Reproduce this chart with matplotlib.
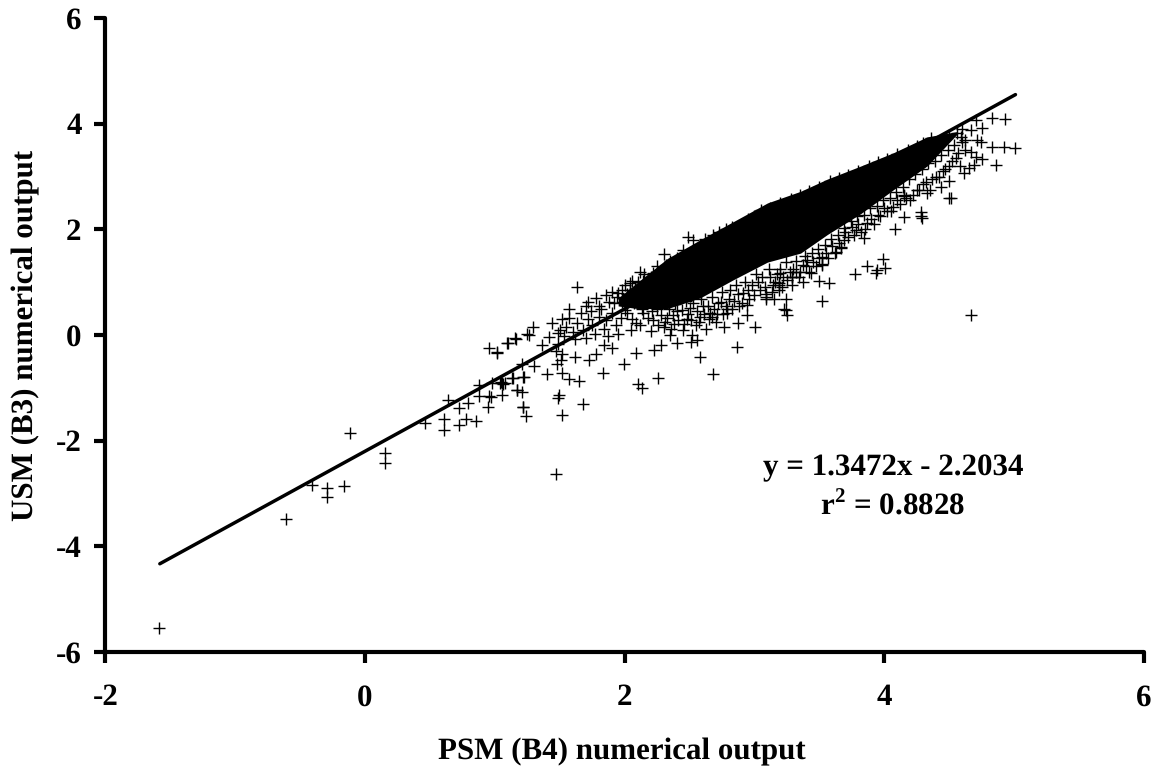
import matplotlib
matplotlib.use("Agg")
import matplotlib.pyplot as plt

plt.rcParams['font.family'] = ['Liberation Serif', 'DejaVu Serif']
plt.rcParams['font.weight'] = 'bold'
plt.rcParams['mathtext.fontset'] = 'custom'
plt.rcParams['mathtext.bf'] = 'Liberation Serif:bold'
plt.rcParams['mathtext.rm'] = 'Liberation Serif:bold'
plt.rcParams['axes.unicode_minus'] = False
plt.rcParams['text.hinting'] = 'no_hinting'
plt.rcParams['text.hinting_factor'] = 1

x_ticks = [-2, 0, 2, 4, 6]
y_ticks = [-6, -4, -2, 0, 2, 4, 6]
x_label = "PSM (B4) numerical output"
y_label = "USM (B3) numerical output"
equation = "y = 1.3472x - 2.2034"
r_squared = r"r$^{\mathbf{2}}$ = 0.8828"

# Regression line end points
fit_x = [-1.58, 5.01]
fit_y = [-4.33, 4.55]

# Individually readable outliers, lower-left tail
tail_points = [
    (-1.588, -5.55), (-0.607, -3.49), (-0.407, -2.84), (-0.294, -2.89), (-0.294, -3.06),
    (-0.16, -2.85), (-0.119, -1.85), (0.155, -2.24), (0.155, -2.42), (0.461, -1.67),
    (0.607, -1.59), (0.607, -1.79), (0.638, -1.23), (0.723, -1.39), (0.723, -1.71),
    (0.78, -1.59), (0.857, -1.62), (0.797, -1.29), (0.877, -0.95), (0.877, -1.15),
    (0.949, -1.37), (0.954, -1.15), (0.972, -1.17), (1.059, -1.14), (1.057, -0.91),
    (1.04, -0.91), (1.075, -0.91), (1.05, -0.89), (1.065, -0.93), (0.98, -0.91),
    (1.134, -0.82), (1.224, -0.79), (1.172, -1.05), (1.211, -1.07), (1.216, -1.36),
    (1.237, -1.53), (1.211, -0.54), (0.954, -0.25), (1.018, -0.32), (1.013, -0.34),
    (1.10, -0.16), (1.16, -0.08), (1.25, 0.02), (1.63, 0.91), (1.57, 0.50),
    (1.706, 0.54), (1.296, 0.16), (1.262, 0.0), (1.159, -0.06), (1.095, -0.16),
    (1.442, 0.22), (1.519, 0.30), (1.42, -0.03), (1.365, -0.19), (1.485, 0.03),
    (1.30, -0.58), (1.403, -0.73), (1.219, -0.79), (1.142, -0.82), (1.514, -0.71),
    (1.57, -0.83), (1.647, -0.88), (1.172, -1.04), (1.493, -1.14), (1.485, -1.2),
    (1.678, -1.31), (1.216, -1.37), (1.519, -1.51), (1.835, -0.71), (1.994, -0.54),
    (2.102, -0.93), (2.135, -1.0), (2.259, -0.81), (2.677, -0.74), (2.577, -0.42),
    (2.862, -0.22), (1.47, -2.63), (1.49, -0.17), (1.47, -0.3), (1.52, -0.36),
]

# Scattered points below the main band
lower_points = [
    (3.006, 0.15), (2.764, 0.16), (2.875, 0.22), (2.939, 0.38), (2.944, 0.57),
    (2.79, 0.5), (2.675, 0.35), (2.084, -0.35), (2.225, -0.28), (2.277, -0.19),
    (2.405, -0.16), (2.508, -0.13), (2.56, -0.09), (1.904, -0.25), (1.84, -0.19),
    (1.776, -0.36), (1.724, -0.47), (1.614, -0.41), (1.506, -0.47), (1.48, -0.54),
    (3.085, 0.72), (3.15, 0.69), (3.214, 0.91), (3.24, 0.69), (3.227, 0.5),
    (3.247, 0.38), (3.137, 0.82), (3.186, 0.98), (3.29, 1.10), (3.317, 1.2),
    (3.573, 0.98), (3.496, 1.02), (3.517, 0.65), (3.373, 1.01), (3.24, 0.47),
    (3.774, 1.15), (3.869, 1.31), (3.933, 1.18), (3.94, 1.23), (3.989, 1.44),
    (4.002, 1.26), (4.67, 0.38), (3.522, 1.48), (3.522, 1.32), (3.407, 1.42),
    (3.432, 1.17), (3.29, 1.10), (3.2, 1.17), (3.188, 0.95), (3.085, 0.69),
    (4.151, 2.63), (4.151, 2.24), (4.28, 2.33), (4.287, 2.21), (4.28, 2.25),
    (4.082, 2.0), (3.843, 1.83), (3.779, 1.99), (3.689, 1.8), (3.663, 1.67),
    (3.625, 1.58), (4.511, 2.59), (4.498, 2.6), (4.498, 2.92), (4.434, 2.81),
    (4.331, 2.68),
]

# Points at the far upper-right end
end_points = [
    (4.927, 4.09), (4.832, 4.10), (5.004, 3.53), (4.922, 3.56), (4.832, 3.55),
    (4.857, 3.22), (4.755, 3.33), (4.716, 3.69), (4.742, 3.66), (4.755, 3.91),
    (4.665, 3.88), (4.703, 4.07), (4.665, 3.47), (4.703, 3.37), (4.69, 3.22),
    (4.652, 3.16), (4.613, 3.06),
]

# Markers along the upper edge of the band
upper_edge = [
    (1.72, 0.62), (1.8, 0.55), (1.78, 0.7), (1.86, 0.75), (1.9, 0.82), (1.95, 0.8),
    (2.0, 0.95), (2.06, 1.02), (2.1, 1.0), (2.15, 1.15), (2.2, 1.1), (2.12, 1.2),
    (2.25, 1.3), (2.3, 1.53), (2.35, 1.4), (2.4, 1.45), (2.45, 1.6), (2.49, 1.85),
    (2.53, 1.8), (2.58, 1.7), (2.62, 1.82), (2.68, 1.9), (2.73, 1.95), (2.78, 2.0),
    (2.83, 2.05), (2.9, 2.1), (2.95, 2.2), (3.0, 2.25), (3.05, 2.36), (3.12, 2.4),
    (3.2, 2.5), (3.28, 2.58), (3.35, 2.65), (3.42, 2.72), (3.5, 2.8), (3.58, 2.92),
    (3.65, 2.98), (3.72, 3.03), (3.8, 3.1), (3.88, 3.2), (3.95, 3.27), (4.02, 3.34),
    (4.1, 3.42), (4.18, 3.5), (4.25, 3.58), (4.3, 3.64), (4.36, 3.72), (4.42, 3.68),
    (4.5, 3.78), (4.56, 3.82), (4.6, 3.9),
    (1.88, 0.62), (1.94, 0.72), (1.98, 0.85), (2.02, 0.78), (2.04, 0.98), (2.08, 0.88),
    (2.14, 1.02), (2.18, 1.0), (2.22, 1.18), (2.27, 1.2), (2.32, 1.32), (2.38, 1.35),
]

# Markers in the open fringe under the band
fringe = [
    (1.50, 0.1), (1.53, -0.02), (1.55, 0.15), (1.57, 0.33), (1.6, 0.05), (1.62, -0.08),
    (1.63, 0.22), (1.66, 0.42), (1.68, 0.1), (1.7, -0.05), (1.72, 0.3), (1.74, 0.45),
    (1.75, 0.18), (1.77, 0.02), (1.8, 0.35), (1.82, 0.5), (1.84, 0.12), (1.86, 0.28),
    (1.87, -0.02), (1.9, 0.42), (1.92, 0.6), (1.93, 0.18), (1.95, 0.02), (1.97, 0.32),
    (2.0, 0.48), (2.03, 0.7), (2.05, 0.1), (2.06, 0.3),
    (2.12, 0.18), (2.14, 0.42), (2.2, 0.08), (2.22, 0.28), (2.25, 0.5),
    (2.3, 0.15), (2.33, 0.32), (2.35, 0.0), (2.38, 0.2), (2.4, 0.45),
    (2.45, 0.1), (2.48, 0.3), (2.5, 0.52), (2.52, 0.0), (2.55, 0.18),
    (2.58, 0.35), (2.6, 0.55), (2.63, 0.12), (2.66, 0.42), (2.7, 0.25), (2.72, 0.6),
    (2.76, 0.4), (2.8, 0.68), (2.83, 0.5), (2.87, 0.78), (2.9, 0.6), (2.95, 0.85),
    (3.0, 0.75), (3.03, 1.0), (3.08, 0.9), (3.12, 1.1), (3.16, 1.0), (3.2, 1.25),
    (3.25, 1.05), (3.3, 1.25), (3.35, 1.2), (3.4, 1.3), (3.45, 1.38), (3.5, 1.45),
    (3.55, 1.55), (3.6, 1.68), (3.65, 1.75), (3.7, 1.95), (3.75, 2.05), (3.8, 2.1),
    (3.85, 2.0), (3.9, 2.2), (3.95, 2.28), (4.0, 2.4), (4.05, 2.35), (4.1, 2.55),
    (4.15, 2.65), (4.2, 2.55), (4.25, 2.75), (4.3, 2.85), (4.35, 2.75), (4.4, 3.0),
    (4.45, 3.1), (4.5, 3.2), (4.55, 3.35), (4.58, 3.2), (4.62, 3.5), (4.6, 3.65),
]

# Closely packed markers just under the solid region
mesh = [
    (1.98, 0.62), (2.02, 0.42), (2.04, 0.85), (2.07, 0.6), (2.09, 0.22), (2.11, 0.75),
    (2.13, 0.5), (2.16, 0.9), (2.18, 0.32), (2.19, 0.62), (2.21, 0.45), (2.23, 0.78),
    (2.26, 0.18), (2.28, 0.38), (2.29, 0.62), (2.31, 0.25), (2.34, 0.5), (2.36, 0.12),
    (2.37, 0.38), (2.39, 0.58), (2.41, 0.28), (2.44, 0.48), (2.46, 0.2), (2.47, 0.65),
    (2.49, 0.4), (2.51, 0.28), (2.53, 0.6), (2.56, 0.46), (2.57, 0.25), (2.59, 0.68),
    (2.61, 0.4), (2.64, 0.55), (2.65, 0.3), (2.67, 0.72), (2.69, 0.5), (2.71, 0.4),
    (2.74, 0.62), (2.75, 0.82), (2.78, 0.55), (2.79, 0.42), (2.81, 0.85), (2.84, 0.65),
    (2.86, 0.95), (2.88, 0.55), (2.91, 0.8), (2.93, 1.0), (2.96, 0.68), (2.98, 0.95),
    (3.01, 1.15), (3.04, 0.85), (3.06, 1.1), (3.09, 0.78), (3.11, 1.25), (3.14, 0.95),
    (3.17, 1.15), (3.19, 0.85), (3.22, 1.1), (3.24, 1.38), (3.27, 1.2), (3.29, 0.95),
    (3.32, 1.4), (3.34, 1.1), (3.37, 1.32), (3.39, 1.5), (3.42, 1.2), (3.44, 1.55),
    (3.47, 1.3), (3.49, 1.62), (3.52, 1.35), (3.54, 1.7), (3.57, 1.45), (3.59, 1.82),
    (3.62, 1.55), (3.64, 1.9), (3.67, 1.65), (3.69, 2.02), (3.72, 1.85), (3.74, 2.15),
    (3.77, 1.9), (3.79, 2.25), (3.82, 1.95), (3.84, 2.28), (3.87, 2.12), (3.89, 2.4),
    (3.92, 2.1), (3.94, 2.45), (3.97, 2.25), (3.99, 2.55), (4.02, 2.35), (4.04, 2.6),
    (4.07, 2.42), (4.09, 2.7), (4.12, 2.48), (4.14, 2.8), (4.17, 2.6), (4.19, 2.95),
    (4.22, 2.65), (4.24, 3.05), (4.27, 2.75), (4.29, 3.15), (4.32, 2.9), (4.34, 3.25),
    (4.37, 2.95), (4.39, 3.3), (4.42, 3.0), (4.44, 3.4), (4.47, 3.15), (4.49, 3.5),
    (4.52, 3.3), (4.54, 3.6), (4.57, 3.45), (4.59, 3.75), (4.62, 3.7),
]

# Extent of the region where the overlapping markers merge into solid black,
# read from the picture because single points cannot be told apart there.
core_x = [1.95, 2.1, 2.33, 2.58, 2.84, 3.1, 3.355, 3.56, 3.82, 4.07, 4.33, 4.56]
core_low = [0.55, 0.5, 0.5, 0.7, 1.05, 1.38, 1.55, 1.9, 2.3, 2.75, 3.2, 3.8]
core_high = [0.7, 1.0, 1.45, 1.8, 2.15, 2.5, 2.72, 2.95, 3.2, 3.45, 3.75, 3.85]

W, H = 1159, 773
FONT = 22
fig = plt.figure(figsize=(W / 100, H / 100), dpi=100, facecolor='white')
ax = fig.add_axes([105.3 / W, (H - 652) / H, (1144 - 105.3) / W, (652 - 18) / H])

ax.fill_between(core_x, core_low, core_high, color='black', lw=0, zorder=2)
all_points = tail_points + lower_points + end_points + upper_edge + fringe + mesh
ax.plot([p[0] for p in all_points], [p[1] for p in all_points], linestyle='none',
        marker='+', ms=8.5, mew=1.0, color='black', zorder=2)
ax.plot(fit_x, fit_y, color='black', lw=2.5, solid_capstyle='round', zorder=3)

ax.set_xlim(-2, 6)
ax.set_ylim(-6, 6)
ax.set_xticks(x_ticks)
ax.set_yticks(y_ticks)
ax.spines['top'].set_visible(False)
ax.spines['right'].set_visible(False)
for side in ('left', 'bottom'):
    ax.spines[side].set_linewidth(3)
    ax.spines[side].set_capstyle('round')
ax.tick_params(axis='both', direction='out', length=8, width=3, labelsize=FONT, color='black')
ax.tick_params(axis='x', pad=15)
ax.tick_params(axis='y', pad=9)
for lab in ax.get_xticklabels() + ax.get_yticklabels():
    lab.set_fontweight('bold')

fig.text(622 / W, 1 - 752 / H, x_label, ha='center', va='center', fontsize=FONT, fontweight='bold')
fig.text(26 / W, 1 - 335 / H, y_label, ha='center', va='center', rotation=90, fontsize=FONT, fontweight='bold')
fig.text(893 / W, 1 - 468 / H, equation, ha='center', va='center', fontsize=FONT, fontweight='bold')
fig.text(893 / W, 1 - 506 / H, r_squared, ha='center', va='center', fontsize=FONT, fontweight='bold')

fig.savefig('out.png', dpi=100)
